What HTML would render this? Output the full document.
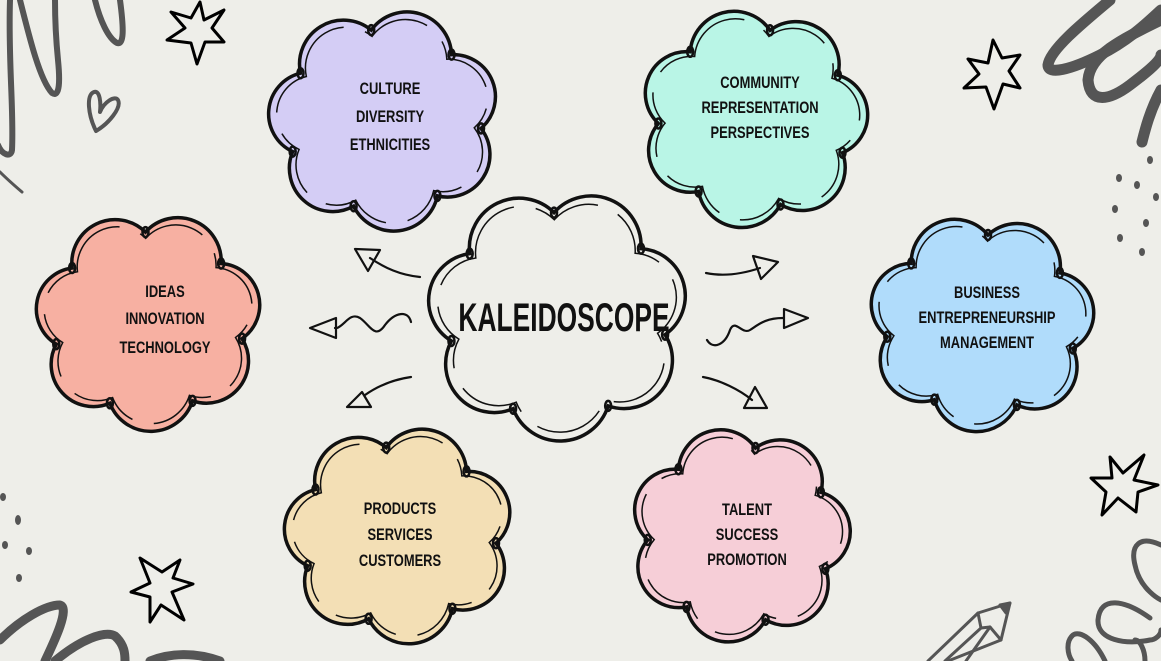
<!DOCTYPE html>
<html><head><meta charset="utf-8">
<style>
html,body{margin:0;padding:0;background:#eeeee9;}
svg{display:block;}
text{font-family:"Liberation Sans",sans-serif;font-weight:bold;fill:#111;}
</style></head>
<body>
<svg id="s" width="1161" height="661" viewBox="0 0 1161 661" xmlns="http://www.w3.org/2000/svg">
<rect width="1161" height="661" fill="#eeeee9"/>
<g fill="none" stroke="#555" stroke-width="6" stroke-linecap="round" stroke-linejoin="round">
<path d="M10,0 C8,60 14,110 12,150 C11,158 2,155 -2,145"/>
<path d="M20,0 C30,40 40,80 52,93 C60,98 60,80 58,60 C56,40 55,20 55,0"/>
<path d="M95,0 C100,20 108,38 117,43 C124,45 124,30 120,0"/>
<path d="M0,172 C8,180 15,186 22,192" stroke-width="3"/>
<path d="M96,131 C88,115 86,95 94,92 C100,90 101,103 100,112 C104,102 115,95 118,100 C122,108 108,124 96,131 Z" stroke-width="4"/>
<path d="M1110,0 C1080,25 1050,50 1048,65 C1048,75 1070,70 1100,55 C1130,40 1150,20 1161,10" stroke-width="11"/>
<path d="M1161,20 C1120,40 1090,55 1088,80 C1090,105 1110,100 1130,85 C1150,70 1161,60 1161,55" stroke-width="11"/>
<path d="M1161,90 C1150,110 1145,130 1142,142" stroke-width="11"/>
<path d="M0,640 C20,620 45,605 60,605 C70,608 55,640 45,661" stroke-width="9"/>
<path d="M55,661 C80,640 105,630 115,636 C125,645 125,655 125,661" stroke-width="9"/>
<path d="M150,661 C170,653 195,652 220,661" stroke-width="9"/>
<path d="M1161,545 C1140,535 1130,545 1135,565 C1140,590 1161,600 1161,600" stroke-width="5"/>
<path d="M1150,618 C1125,600 1100,595 1098,620 C1097,640 1125,645 1150,640 C1155,640 1161,635 1161,630" stroke-width="5"/>
<path d="M1145,661 C1145,650 1140,640 1135,640" stroke-width="5"/>
<path d="M1105,661 C1095,640 1080,630 1073,635 C1065,642 1068,655 1072,661" stroke-width="5"/>
<g stroke-width="3">
<path d="M928,661 L978,613 L1010,603 L1001,640 L948,661"/>
<path d="M978,613 L981,628 L990,627 L1001,640"/>
<path d="M945,661 L981,628"/><path d="M966,661 L990,627"/>
<path d="M1000,605 L1010,603 L1006,613 Z" fill="#555"/>
</g>
</g>
<g fill="#555">
<ellipse cx="1150" cy="160" rx="3" ry="4"/><ellipse cx="1119" cy="178" rx="3" ry="4"/><ellipse cx="1137" cy="185" rx="3" ry="4"/>
<ellipse cx="1156" cy="197" rx="3" ry="4"/><ellipse cx="1115" cy="209" rx="3" ry="4"/><ellipse cx="1146" cy="223" rx="3" ry="4"/>
<ellipse cx="1120" cy="238" rx="3" ry="4"/><ellipse cx="1142" cy="252" rx="3" ry="4"/>
<ellipse cx="3" cy="497" rx="3" ry="4"/><ellipse cx="18" cy="520" rx="3" ry="5"/><ellipse cx="5" cy="545" rx="3" ry="4"/>
<ellipse cx="29" cy="551" rx="3" ry="4"/><ellipse cx="19" cy="578" rx="3" ry="4"/>
</g>
<g fill="#eeeee9" stroke="#000" stroke-width="3" stroke-linejoin="round">
<path d="M200,2 L204,20 L224,10 L212,28 L224,42 L205,42 L197,64 L191,43 L167,40 L185,28 L171,12 L191,18 Z"/>
<path d="M993,40 L1002,58 L1020,55 L1009,71 L1020,88 L1003,84 L994,109 L986,87 L964,88 L979,74 L968,59 L988,63 Z"/>
<path d="M1144,455 L1134,480 L1158,485 L1138,492 L1136,512 L1118,498 L1102,515 L1106,492 L1091,478 L1112,478 L1110,457 L1123,473 Z"/>
<path d="M180,560 L173,578 L193,584 L172,592 L184,620 L161,605 L150,622 L150,597 L131,592 L150,583 L140,558 L162,572 Z"/>
</g>
<g id="clouds"></g>
<g fill="none" stroke="#111" stroke-width="2.2" stroke-linecap="round" stroke-linejoin="round">
<path d="M420,277 C400,275 385,268 370,258"/><path d="M355,249 L380,250 L368,271 Z"/>
<path d="M411,322 C408,310 395,312 385,325 C375,340 370,325 360,318 C350,312 345,325 337,328 L335,328"/><path d="M310,328 L336,318 L336,338 Z"/>
<path d="M411,377 C390,380 375,388 365,395"/><path d="M347,407 L362,392 L371,407 Z"/>
<path d="M706,273 C725,277 745,273 760,268"/><path d="M778,262 L753,256 L761,279 Z"/>
<path d="M707,340 C713,350 725,345 730,330 C735,318 742,335 750,330 C758,325 765,318 783,318"/><path d="M808,318 L784,309 L784,328 Z"/>
<path d="M703,377 C720,380 740,390 752,400"/><path d="M767,408 L755,387 L744,408 Z"/>
</g>
<g text-anchor="middle">
<g transform="translate(390,0) scale(0.76,1)" font-size="17"><text x="0" y="94">CULTURE</text><text x="0" y="122">DIVERSITY</text><text x="0" y="150">ETHNICITIES</text></g>
<g transform="translate(760,0) scale(0.76,1)" font-size="17"><text x="0" y="88">COMMUNITY</text><text x="0" y="113">REPRESENTATION</text><text x="0" y="138">PERSPECTIVES</text></g>
<g transform="translate(165,0) scale(0.76,1)" font-size="17"><text x="0" y="297">IDEAS</text><text x="0" y="324">INNOVATION</text><text x="0" y="353">TECHNOLOGY</text></g>
<g transform="translate(987,0) scale(0.76,1)" font-size="17"><text x="0" y="298">BUSINESS</text><text x="0" y="323">ENTREPRENEURSHIP</text><text x="0" y="348">MANAGEMENT</text></g>
<g transform="translate(400,0) scale(0.76,1)" font-size="17"><text x="0" y="514">PRODUCTS</text><text x="0" y="540">SERVICES</text><text x="0" y="566">CUSTOMERS</text></g>
<g transform="translate(747,0) scale(0.76,1)" font-size="17"><text x="0" y="515">TALENT</text><text x="0" y="540">SUCCESS</text><text x="0" y="565">PROMOTION</text></g>
<g transform="translate(564,0) scale(0.66,1)" font-size="40"><text x="0" y="331">KALEIDOSCOPE</text></g>
</g>
</svg>
<script>
(function(){
var g=document.getElementById('clouds');var NS='http://www.w3.org/2000/svg';
function cloud(x0,y0,x1,y1,fill,off){
 var cx=(x0+x1)/2,cy=(y0+y1)/2,rx=(x1-x0)/2,ry=(y1-y0)/2,n=7,pts=[];
 for(var i=0;i<n;i++){var a=off+i*2*Math.PI/n;pts.push([cx+rx*0.84*Math.cos(a),cy+ry*0.84*Math.sin(a)]);}
 function path(s){var p=pts.map(function(q){return [cx+(q[0]-cx)*s,cy+(q[1]-cy)*s];});
  var d='M'+p[0][0]+','+p[0][1];
  for(var i=0;i<n;i++){var a=p[i],b=p[(i+1)%n];var c=Math.hypot(b[0]-a[0],b[1]-a[1]);var r=c*0.53;
   d+=' A'+r+','+r+' 0 0 1 '+b[0]+','+b[1];}
  return d+'Z';}
 var e=document.createElementNS(NS,'path');e.setAttribute('d',path(1));e.setAttribute('fill',fill);
 e.setAttribute('stroke','#111');e.setAttribute('stroke-width','3.5');g.appendChild(e);
 var f=document.createElementNS(NS,'path');f.setAttribute('d',path(0.93));f.setAttribute('fill','none');
 f.setAttribute('stroke','#111');f.setAttribute('stroke-width','1.5');f.setAttribute('stroke-dasharray','70 22');g.appendChild(f);
 pts.forEach(function(q){var k=document.createElementNS(NS,'ellipse');k.setAttribute('cx',q[0]);k.setAttribute('cy',q[1]);
  k.setAttribute('rx',3);k.setAttribute('ry',5);k.setAttribute('fill','none');k.setAttribute('stroke','#111');k.setAttribute('stroke-width','2.5');g.appendChild(k);});
}
cloud(268,12,500,228,'#d4cdf5',-2.6);
cloud(640,12,868,225,'#b9f5e6',-2.3);
cloud(35,215,262,428,'#f7b0a2',-2.5);
cloud(868,218,1095,428,'#b0dcfb',-2.4);
cloud(283,430,515,640,'#f3dfb5',-2.6);
cloud(630,430,850,640,'#f6ced7',-2.3);
cloud(427,193,688,437,'#eeeee9',-2.5);
})();
</script>
</body></html>
